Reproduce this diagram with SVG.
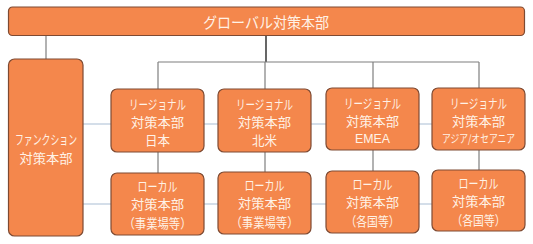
<svg xmlns="http://www.w3.org/2000/svg" width="533" height="244" viewBox="0 0 533 244">
<style>
.box{fill:#F4874C;stroke:#7E4A32;stroke-width:1.2}
.t{font-family:"Noto Sans CJK JP","Noto Sans",sans-serif;font-size:13px;fill:#FFF2E6;text-anchor:middle;dominant-baseline:central}
.c{stroke:#7F7F7F;stroke-width:1.2;fill:none}
.cd{stroke:#262626;stroke-width:1.4;fill:none}
.cb{stroke:#A9BED4;stroke-width:1.2;fill:none}
</style>
<rect width="533" height="244" fill="#FFFFFF"/>
<g id="connectors">
<line class="cb" x1="83" y1="124" x2="432" y2="124"/>
<line class="cb" x1="83" y1="204" x2="432" y2="204"/>
<line class="c" x1="46" y1="35" x2="46" y2="59"/>
<line class="cd" x1="266" y1="35" x2="266" y2="62"/>
<line class="c" x1="158" y1="62" x2="479" y2="62"/>
<line class="c" x1="158" y1="62" x2="158" y2="89"/>
<line class="c" x1="265" y1="62" x2="265" y2="89"/>
<line class="c" x1="373" y1="62" x2="373" y2="88"/>
<line class="c" x1="479" y1="62" x2="479" y2="88"/>
<line class="c" x1="158" y1="152" x2="158" y2="173"/>
<line class="c" x1="265" y1="152" x2="265" y2="172"/>
<line class="c" x1="373" y1="150" x2="373" y2="171"/>
<line class="c" x1="479" y1="150" x2="479" y2="170"/>
</g>
<g id="global">
<rect class="box" x="8.5" y="7" width="516" height="28.5" rx="4"/>
<text class="t" x="266" y="21.5" font-size="15" textLength="126" lengthAdjust="spacingAndGlyphs" style="font-size:15px">グローバル対策本部</text>
</g>
<g id="function">
<rect class="box" x="8.5" y="59" width="74.5" height="177" rx="6"/>
<text class="t" x="46" y="138" textLength="62" lengthAdjust="spacingAndGlyphs">ファンクション</text>
<text class="t" x="46" y="157" textLength="53" lengthAdjust="spacingAndGlyphs">対策本部</text>
</g>
<g id="regional-japan">
<rect class="box" x="111" y="89" width="93" height="63" rx="6"/>
<text class="t" x="157.5" y="103" textLength="57" lengthAdjust="spacingAndGlyphs">リージョナル</text>
<text class="t" x="157.5" y="121.5" textLength="53" lengthAdjust="spacingAndGlyphs">対策本部</text>
<text class="t" x="157.5" y="139.5" textLength="25" lengthAdjust="spacingAndGlyphs">日本</text>
</g>
<g id="regional-na">
<rect class="box" x="218" y="89" width="93" height="63" rx="6"/>
<text class="t" x="264.5" y="103" textLength="57" lengthAdjust="spacingAndGlyphs">リージョナル</text>
<text class="t" x="264.5" y="121.5" textLength="53" lengthAdjust="spacingAndGlyphs">対策本部</text>
<text class="t" x="264.5" y="139.5" textLength="25" lengthAdjust="spacingAndGlyphs">北米</text>
</g>
<g id="regional-emea">
<rect class="box" x="326" y="88" width="93" height="62" rx="6"/>
<text class="t" x="372.5" y="102" textLength="57" lengthAdjust="spacingAndGlyphs">リージョナル</text>
<text class="t" x="372.5" y="120.5" textLength="53" lengthAdjust="spacingAndGlyphs">対策本部</text>
<text class="t" x="372.5" y="138" textLength="35" lengthAdjust="spacingAndGlyphs" style="font-family:'Liberation Sans',sans-serif">EMEA</text>
</g>
<g id="regional-apac">
<rect class="box" x="432" y="88" width="93" height="62" rx="6"/>
<text class="t" x="478.5" y="102" textLength="57" lengthAdjust="spacingAndGlyphs">リージョナル</text>
<text class="t" x="478.5" y="120.5" textLength="53" lengthAdjust="spacingAndGlyphs">対策本部</text>
<text class="t" x="478.5" y="138" textLength="73" lengthAdjust="spacingAndGlyphs" style="font-size:11px">アジア/オセアニア</text>
</g>
<g id="local-japan">
<rect class="box" x="111" y="173" width="93" height="62" rx="6"/>
<text class="t" x="157.5" y="185" textLength="40" lengthAdjust="spacingAndGlyphs">ローカル</text>
<text class="t" x="157.5" y="203.5" textLength="53" lengthAdjust="spacingAndGlyphs">対策本部</text>
<text class="t" x="157.5" y="222" textLength="68" lengthAdjust="spacingAndGlyphs">（事業場等）</text>
</g>
<g id="local-na">
<rect class="box" x="218" y="172" width="93" height="62" rx="6"/>
<text class="t" x="264.5" y="184" textLength="40" lengthAdjust="spacingAndGlyphs">ローカル</text>
<text class="t" x="264.5" y="202.5" textLength="53" lengthAdjust="spacingAndGlyphs">対策本部</text>
<text class="t" x="264.5" y="221" textLength="68" lengthAdjust="spacingAndGlyphs">（事業場等）</text>
</g>
<g id="local-emea">
<rect class="box" x="326" y="171" width="93" height="62" rx="6"/>
<text class="t" x="372.5" y="183" textLength="40" lengthAdjust="spacingAndGlyphs">ローカル</text>
<text class="t" x="372.5" y="201.5" textLength="53" lengthAdjust="spacingAndGlyphs">対策本部</text>
<text class="t" x="372.5" y="220" textLength="54" lengthAdjust="spacingAndGlyphs">（各国等）</text>
</g>
<g id="local-apac">
<rect class="box" x="432" y="170" width="93" height="61" rx="6"/>
<text class="t" x="478.5" y="182" textLength="40" lengthAdjust="spacingAndGlyphs">ローカル</text>
<text class="t" x="478.5" y="200.5" textLength="53" lengthAdjust="spacingAndGlyphs">対策本部</text>
<text class="t" x="478.5" y="219" textLength="54" lengthAdjust="spacingAndGlyphs">（各国等）</text>
</g>
</svg>
